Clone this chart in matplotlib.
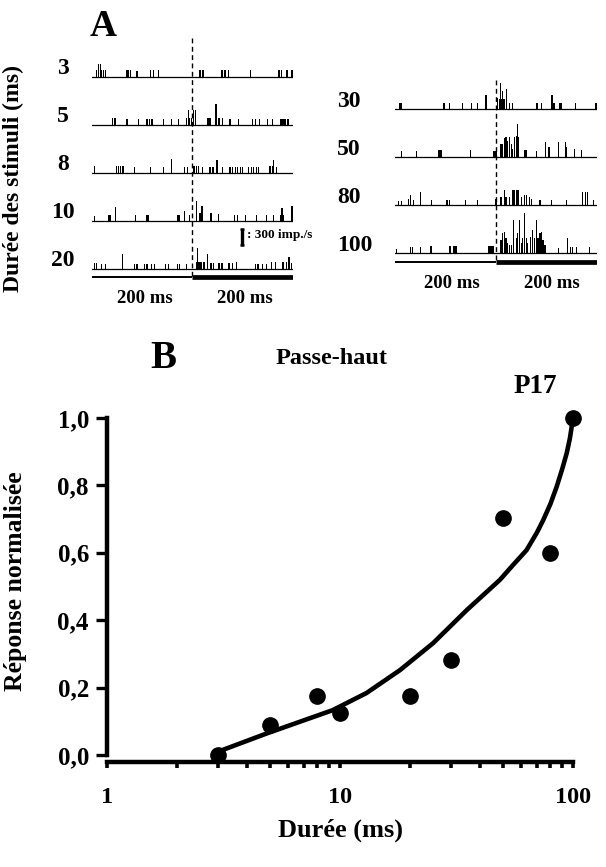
import numpy as np
import matplotlib
matplotlib.use("Agg")
import matplotlib.pyplot as plt
from matplotlib.transforms import blended_transform_factory

plt.rcParams['font.family'] = ['Liberation Serif', 'DejaVu Serif']
plt.rcParams['font.weight'] = 'bold'
plt.rcParams['axes.labelweight'] = 'bold'

W, H = 606, 867

# --- panel A : PSTH, time (ms) from stimulus onset, rate (imp./s) ---
left_durations = ['3', '5', '8', '10', '20']
right_durations = ['30', '50', '80', '100']

t3 = [-190, -187, -183, -180, -176, -172, -130, -127, -123, -110, -83, -77, -68, 15, 21, 59, 65, 72, 115, 172, 177, 188, 198]
h3 = [125, 250, 250, 125, 125, 125, 125, 125, 125, 115, 125, 125, 125, 125, 125, 125, 125, 125, 125, 125, 125, 125, 125]

t5 = [-158, -155, -153, -130, -107, -90, -85, -80, -57, -41, -27, -12, -8, -5, -1, 2, 7, 31, 33, 35, 47, 53, 60, 75, 92,
      119, 125, 133, 149, 159, 175, 178, 180, 184, 190]
h5 = [125, 125, 125, 115, 115, 115, 115, 115, 115, 115, 115, 125, 280, 125, 125, 280, 280, 125, 125, 125, 390, 125, 125,
      115, 115, 115, 115, 115, 115, 115, 115, 115, 115, 115, 115]

t8 = [-195, -151, -147, -142, -138, -115, -83, -57, -41, -15, -9, 2, 5, 9, 12, 20, 35, 41, 49, 60, 75, 80, 85, 90, 95,
      100, 111, 117, 121, 127, 131, 153, 156, 159, 161, 167]
h8 = [125, 125, 125, 125, 125, 115, 115, 115, 260, 115, 115, 140, 140, 140, 140, 115, 115, 115, 250, 115, 115, 115, 115,
      115, 115, 115, 115, 115, 115, 115, 115, 125, 125, 125, 250, 115]

t10 = [-195, -167, -164, -162, -153, -113, -90, -87, -30, -27, -25, -15, -5, 8, 15, 19, 37, 52, 83, 90, 105, 127, 147,
       162, 175, 178, 180, 198]
h10 = [95, 115, 115, 115, 260, 115, 115, 115, 115, 115, 115, 190, 115, 375, 155, 280, 155, 125, 115, 115, 115, 115, 115,
       115, 115, 240, 115, 280]

t20 = [-195, -190, -181, -173, -139, -115, -110, -95, -90, -81, -75, -53, -47, -30, -25, -12, 9, 10, 13, 15, 17, 23, 30,
       37, 42, 53, 59, 73, 79, 88, 125, 129, 132, 140, 147, 157, 165, 180, 187, 192, 197]
h20 = [115, 115, 95, 95, 280, 95, 95, 95, 95, 95, 95, 95, 95, 95, 95, 95, 140, 390, 140, 140, 140, 140, 280, 115, 115,
       115, 115, 115, 115, 140, 95, 95, 95, 95, 95, 140, 140, 125, 140, 220, 115]

t30 = [-190, -188, -187, -103, -92, -67, -48, -37, -20, 3, 7, 9, 11, 13, 16, 21, 27, 32, 81, 90, 111, 113, 115, 125,
       128, 130, 157, 198]
h30 = [125, 125, 125, 115, 115, 115, 115, 115, 260, 220, 190, 490, 190, 340, 190, 375, 125, 125, 115, 115, 260, 125,
       125, 125, 125, 125, 125, 125]

t50 = [-187, -158, -113, -109, -51, -5, -2, 0, 10, 13, 17, 20, 23, 27, 30, 33, 37, 40, 42, 45, 57, 59, 61, 80, 98, 105,
       123, 137, 140, 155, 169]
h50 = [125, 125, 140, 140, 140, 125, 125, 125, 250, 250, 360, 375, 310, 375, 250, 155, 375, 390, 625, 375, 140, 140,
       140, 125, 280, 190, 280, 280, 190, 155, 140]

t80 = [-193, -187, -173, -170, -169, -163, -149, -127, -97, -92, -60, -37, 0, 10, 17, 20, 27, 32, 35, 37, 40, 43, 45,
       50, 57, 61, 67, 71, 87, 110, 140, 172, 177, 181, 193]
h80 = [75, 75, 125, 190, 125, 95, 250, 95, 95, 95, 95, 95, 125, 155, 280, 155, 155, 280, 280, 280, 280, 280, 280, 155,
       190, 190, 155, 125, 95, 95, 95, 250, 250, 250, 95]

t100 = [-197, -170, -165, -149, -130, -127, -91, -83, -81, -78, -15, -13, -10, -7, -5, 10, 13, 17, 20, 23, 27, 30, 35,
        40, 43, 47, 50, 53, 57, 60, 63, 69, 73, 77, 80, 83, 87, 90, 93, 97, 123, 142, 147, 151, 160, 185]
h100 = [75, 115, 115, 115, 140, 140, 140, 140, 140, 140, 140, 140, 140, 140, 140, 250, 375, 405, 280, 190, 155, 155,
        625, 280, 375, 625, 190, 280, 750, 280, 190, 310, 440, 280, 625, 280, 375, 405, 250, 155, 95, 280, 125, 125,
        125, 125]

scale_rate = 300  # imp./s

# --- panel B : normalised response vs duration ---
durations = [3, 5, 8, 10, 20, 30, 50, 80, 100]
response = [0.0, 0.09, 0.176, 0.124, 0.176, 0.282, 0.702, 0.598, 1.0]

fit_x = [3, 4.85, 9.3, 13.0, 18.1, 25.1, 35.0, 48.6, 55.0, 63.2, 70.0, 74.5, 80.0, 85.1, 90.0, 94.0, 97.0, 98.7, 100]
fit_y = [0.01, 0.064, 0.133, 0.184, 0.252, 0.332, 0.43, 0.52, 0.562, 0.608, 0.66, 0.697, 0.745, 0.796, 0.85, 0.896,
         0.94, 0.974, 1.0]

fig = plt.figure(figsize=(W / 100, H / 100), dpi=100)

PX = 300 / 16.0   # imp./s per pixel
GAP = 900         # row spacing, imp./s units


def px_ax(x0, x1, y0, y1):
    return fig.add_axes([x0 / W, 1 - y1 / H, (x1 - x0) / W, (y1 - y0) / H])


def psth(ax, rows, labels, lab_x, lab_ha, dash_top):
    ax.set_xlim(-200, 200)
    ax.axis('off')
    tr = blended_transform_factory(fig.transFigure, ax.transData)
    for i, (t, h) in enumerate(rows):
        base = -i * GAP
        ax.bar(t, h, width=2.4, bottom=base, color='black', linewidth=0, antialiased=False)
        ax.plot([-200, 200], [base, base], color='black', lw=0.9)
        ax.text(lab_x / W, base + 150, labels[i], transform=tr, ha=lab_ha, va='center', fontsize=17)
    bar_y = -(len(rows) - 1) * GAP - 155
    ax.plot([-200, 0], [bar_y, bar_y], color='black', lw=1.4, solid_capstyle='butt')
    ax.plot([0, 200], [bar_y, bar_y], color='black', lw=3.4, solid_capstyle='butt')
    ax.plot([0, 0], [dash_top, bar_y], color='black', lw=1.0, linestyle=(0, (3.5, 2.5)))
    return bar_y


# left PSTH block (row "3" baseline at 77 px)
axL = px_ax(91.7, 293, 35, 300)
axL.set_ylim(-(300 - 77) * PX, (77 - 35) * PX)
barL = psth(axL, [(t3, h3), (t5, h5), (t8, h8), (t10, h10), (t20, h20)], left_durations, 63, 'center',
            (77 - 38) * PX)
axL.text(-95, barL - 390, '200 ms', ha='center', va='center', fontsize=13.5)
axL.text(105, barL - 390, '200 ms', ha='center', va='center', fontsize=13.5)

# scale bar
sb_y = -(245 - 77) * PX
axL.plot([99, 99], [sb_y, sb_y + scale_rate], color='black', lw=2.4, solid_capstyle='butt')
axL.plot([95, 103], [sb_y, sb_y], color='black', lw=1.8, solid_capstyle='butt')
axL.plot([95, 103], [sb_y + scale_rate, sb_y + scale_rate], color='black', lw=1.8, solid_capstyle='butt')
axL.text(108, sb_y + scale_rate / 2 + 30, ': %d imp./s' % scale_rate, ha='left', va='center', fontsize=9.5,
         clip_on=False)

# right PSTH block (row "30" baseline at 109.3 px)
axR = px_ax(395, 597, 75, 300)
axR.set_ylim(-(300 - 109.3) * PX, (109.3 - 75) * PX)
barR = psth(axR, [(t30, h30), (t50, h50), (t80, h80), (t100, h100)], right_durations, 337, 'left',
            (109.3 - 80) * PX)
axR.text(-88, barR - 410, '200 ms', ha='center', va='center', fontsize=13.5)
axR.text(111, barR - 410, '200 ms', ha='center', va='center', fontsize=13.5)

fig.text(13 / W, 1 - 178 / H, 'Durée des stimuli (ms)', rotation=90, ha='center', va='center', fontsize=17)
fig.text(103 / W, 1 - 26 / H, 'A', ha='center', va='center', fontsize=27)

# --- panel B ---
ax = px_ax(107, 573, 418, 762)
ax.plot(fit_x, fit_y, color='black', lw=3.3, solid_capstyle='round', solid_joinstyle='round', clip_on=False)
ax.plot(durations, response, 'o', color='black', markersize=11, clip_on=False)
ax.set_xscale('log')
ax.set_xlim(1, 100)
ax.set_ylim(-7 / 337, 1.0)
for s in ['top', 'right']:
    ax.spines[s].set_visible(False)
for s in ['left', 'bottom']:
    ax.spines[s].set_linewidth(3.2)
ax.spines['left'].set_bounds(0, 1)
ax.set_yticks([0, 0.2, 0.4, 0.6, 0.8, 1.0])
ax.set_yticklabels(['0,0', '0,2', '0,4', '0,6', '0,8', '1,0'])
ax.set_xticks([1, 10, 100])
ax.set_xticklabels(['1', '10', '100'])
ax.tick_params(axis='y', direction='out', length=8, width=2.4, labelsize=18, pad=5)
ax.tick_params(axis='x', which='major', direction='out', length=4, width=2.6, labelsize=17.5, pad=14)
ax.tick_params(axis='x', which='minor', direction='out', length=4, width=2.6)
ax.set_xlabel('Durée (ms)', fontsize=19)
ax.set_ylabel('Réponse normalisée', fontsize=18.5)
ax.xaxis.set_label_coords(0.5, -(819 - 762) / 344)
ax.yaxis.set_label_coords(-(107 - 27) / 466, 0.525)

fig.text(163 / W, 1 - 358 / H, 'B', ha='center', va='center', fontsize=28)
fig.text(332 / W, 1 - 358 / H, 'Passe-haut', ha='center', va='center', fontsize=17.5)
fig.text(535 / W, 1 - 387 / H, 'P17', ha='center', va='center', fontsize=19.5)

fig.savefig('out.png', dpi=100)
